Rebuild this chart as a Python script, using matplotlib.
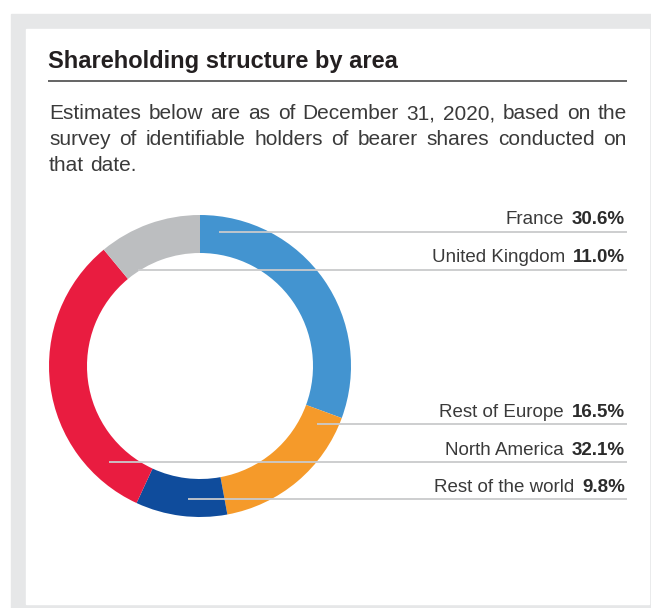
# Shareholding structure by area - donut chart with leader labels
import matplotlib.pyplot as plt
from matplotlib.patches import Rectangle

plt.rcParams['font.family'] = ['Liberation Sans', 'DejaVu Sans']

W, H = 651, 608

# share by area, clockwise from 12 o'clock
areas = ['France', 'Rest of Europe', 'Rest of the world', 'North America', 'United Kingdom']
shares = [30.6, 16.5, 9.8, 32.1, 11.0]
colors = ['#4394d0', '#f59a2a', '#0f4c9c', '#e91c40', '#bcbec0']

# label rows on the right: (area, text baseline y, leader line y, line start x)  -- pixel units from top
rows = [
    ('France', 224, 232, 219),
    ('United Kingdom', 262, 270, 138),
    ('Rest of Europe', 417, 424, 317),
    ('North America', 455, 462, 109),
    ('Rest of the world', 492, 499, 188),
]

fig = plt.figure(figsize=(W / 100, H / 100), dpi=100)
ax = fig.add_axes([0, 0, 1, 1])

def Y(y):  # pixel-from-top -> data y
    return H - y

# panel background
ax.add_patch(Rectangle((11, Y(608)), W - 11, 608 - 14, color='#e6e7e8', zorder=0))
ax.add_patch(Rectangle((26, Y(604)), 649 - 26, 604 - 29, color='white', zorder=0))

# title + rule
ax.text(48, Y(68), 'Shareholding structure by area', fontsize=17, fontweight='bold',
        color='#231f20', va='baseline', ha='left')
ax.plot([48, 627], [Y(81), Y(81)], color='#3a3a3a', lw=1.1, solid_capstyle='butt')

# donut
ax.pie(shares, colors=colors, startangle=90, counterclock=False, center=(200, Y(366)),
       radius=151, wedgeprops=dict(width=38, linewidth=0), frame=True)

ax.set_xlim(0, W)
ax.set_ylim(0, H)
ax.set_aspect('auto')
ax.axis('off')

fig.canvas.draw()
r = fig.canvas.get_renderer()

def width_px(t):
    return t.get_window_extent(renderer=r).width

# justified intro paragraph
fs = 15
lines = ['Estimates below are as of December 31, 2020, based on the',
         'survey of identifiable holders of bearer shares conducted on',
         'that date.']
base = [119, 145, 171]
left, right = 49, 627
for i, line in enumerate(lines):
    words = line.split()
    txts = [ax.text(0, Y(base[i]), w, fontsize=fs, color='#3a3a3a', va='baseline')
            for w in words]
    ws = [width_px(t) for t in txts]
    if i < len(lines) - 1:
        gap = (right - left - sum(ws)) / (len(words) - 1)
    else:
        sp = ax.text(0, 0, 'a a', fontsize=fs)
        sa = ax.text(0, 0, 'aa', fontsize=fs)
        gap = width_px(sp) - width_px(sa)
        sp.remove(); sa.remove()
    x = left
    for t, w in zip(txts, ws):
        t.set_x(x)
        x += w + gap

# leader lines and labels
pct = dict(zip(areas, shares))
for name, ty, ly, lx in rows:
    ax.plot([lx, 627], [Y(ly), Y(ly)], color='#c9cacc', lw=1.3, zorder=5,
            solid_capstyle='butt')
    v = ax.text(625, Y(ty), f'{pct[name]:.1f}%', fontsize=13.5, fontweight='bold',
                color='#2b2b2b', ha='right', va='baseline')
    vw = width_px(v)
    ax.text(625 - vw - 8, Y(ty), name, fontsize=13.5, color='#3a3a3a',
            ha='right', va='baseline')

fig.savefig('out.png', dpi=100)
